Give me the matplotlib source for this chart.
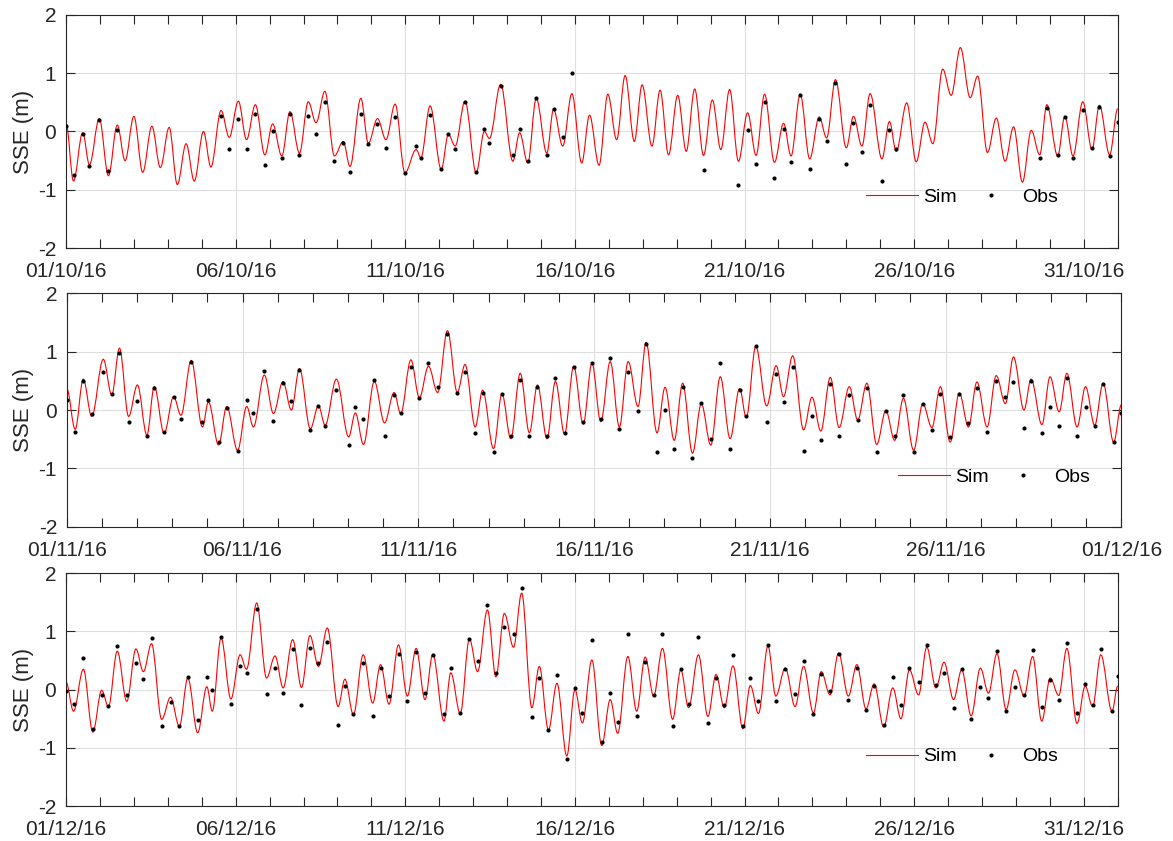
"""
SSE 潮位验证图：模拟值 (Sim) 与实测值 (Obs)，2016 年 10-12 月
"""

import numpy as np
import matplotlib
matplotlib.use('Agg')
import matplotlib.pyplot as plt
from matplotlib.path import Path
from matplotlib.patches import PathPatch
from matplotlib.lines import Line2D
from matplotlib.ticker import MultipleLocator

plt.rcParams['font.family'] = ['Liberation Sans', 'DejaVu Sans']

# ============================================================
# data: turning points of the tide (days since month start, m)
# ============================================================
oct_t = [0.00, 0.22, 0.49, 0.69, 0.98, 1.25, 1.51, 1.74, 2.00, 2.26,
         2.53, 2.78, 3.04, 3.28, 3.54, 3.78, 4.05, 4.27, 4.57, 4.81,
         5.08, 5.32, 5.58, 5.86, 6.09, 6.36, 6.60, 6.88, 7.14, 7.37,
         7.63, 7.91, 8.17, 8.37, 8.69, 8.91, 9.18, 9.43, 9.70, 9.99,
         10.32, 10.46, 10.73, 11.06, 11.27, 11.47, 11.76, 12.09, 12.33, 12.48,
         12.81, 13.17, 13.37, 13.61, 13.86, 14.17, 14.37, 14.64, 14.91, 15.20,
         15.43, 15.71, 15.97, 16.23, 16.48, 16.75, 16.98, 17.27, 17.51, 17.76,
         18.03, 18.28, 18.53, 18.79, 19.05, 19.30, 19.56, 19.82, 20.09, 20.34,
         20.59, 20.88, 21.15, 21.37, 21.64, 21.92, 22.20, 22.42, 22.68, 23.00,
         23.21, 23.46, 23.70, 24.05, 24.27, 24.47, 24.78, 25.06, 25.32, 25.55,
         25.84, 26.09, 26.36, 26.65, 26.87, 27.16, 27.42, 27.68, 27.93, 28.19,
         28.45, 28.70, 28.91, 29.23, 29.44, 29.68, 29.97, 30.24, 30.46, 30.76,
         31.00]
oct_sim = [0.14, -0.85, -0.02, -0.57, 0.22, -0.76, 0.11, -0.50, 0.26, -0.70,
           0.09, -0.62, 0.07, -0.91, -0.21, -0.85, 0.00, -0.61, 0.36, -0.10,
           0.52, -0.14, 0.46, -0.40, 0.13, -0.42, 0.34, -0.37, 0.51, 0.15,
           0.69, -0.42, -0.17, -0.60, 0.57, -0.20, 0.22, -0.14, 0.47, -0.71,
           -0.31, -0.45, 0.44, -0.65, -0.05, -0.25, 0.52, -0.71, 0.00, -0.12,
           0.81, -0.51, -0.02, -0.54, 0.57, -0.37, 0.38, -0.25, 0.65, -0.54,
           0.28, -0.58, 0.64, -0.14, 0.96, -0.17, 0.80, -0.25, 0.71, -0.40,
           0.62, -0.34, 0.73, -0.41, 0.54, -0.31, 0.72, -0.51, 0.32, -0.41,
           0.64, -0.53, 0.14, -0.42, 0.64, -0.47, 0.25, -0.11, 0.89, -0.28,
           0.26, -0.25, 0.65, -0.47, 0.17, -0.34, 0.49, -0.52, 0.16, -0.21,
           1.07, 0.62, 1.44, 0.58, 0.95, -0.36, 0.23, -0.51, 0.08, -0.87,
           0.02, -0.40, 0.46, -0.42, 0.26, -0.42, 0.51, -0.31, 0.45, -0.40,
           0.39]
nan = np.nan
oct_obs = [0.10, -0.75, -0.05, -0.60, 0.20, -0.68, 0.02, nan, nan, nan,
           nan, nan, nan, nan, nan, nan, nan, nan, 0.27, -0.30,
           0.22, -0.30, 0.30, -0.58, 0.00, -0.45, 0.30, -0.40, 0.27, -0.05,
           0.50, -0.50, -0.20, -0.70, 0.30, -0.22, 0.12, -0.28, 0.25, -0.72,
           -0.25, -0.45, 0.28, -0.65, -0.05, -0.30, 0.50, -0.70, 0.05, -0.20,
           0.78, -0.40, 0.05, -0.50, 0.57, -0.40, 0.38, -0.10, 1.01, nan,
           nan, nan, nan, nan, nan, nan, nan, nan, nan, nan,
           nan, nan, nan, -0.66, nan, nan, nan, -0.92, 0.03, -0.55,
           0.50, -0.80, 0.05, -0.52, 0.62, -0.65, 0.22, -0.17, 0.83, -0.55,
           0.15, -0.35, 0.45, -0.85, 0.02, -0.30, nan, nan, nan, nan,
           nan, nan, nan, nan, nan, nan, nan, nan, nan, nan,
           nan, -0.45, 0.40, -0.40, 0.25, -0.45, 0.37, -0.28, 0.42, -0.42,
           0.17]

nov_t = [0.00, 0.24, 0.47, 0.71, 1.04, 1.28, 1.50, 1.76, 2.01, 2.28,
         2.49, 2.77, 3.04, 3.25, 3.54, 3.86, 4.03, 4.32, 4.55, 4.86,
         5.12, 5.31, 5.62, 5.88, 6.15, 6.39, 6.62, 6.93, 7.16, 7.35,
         7.67, 8.02, 8.21, 8.44, 8.75, 9.04, 9.31, 9.50, 9.79, 10.03,
         10.29, 10.55, 10.83, 11.11, 11.33, 11.62, 11.83, 12.14, 12.38, 12.63,
         12.90, 13.16, 13.39, 13.66, 13.90, 14.16, 14.42, 14.69, 14.94, 15.19,
         15.46, 15.72, 15.97, 16.25, 16.48, 16.79, 17.02, 17.28, 17.52, 17.80,
         18.05, 18.32, 18.59, 18.87, 19.14, 19.33, 19.60, 19.91, 20.18, 20.39,
         20.65, 20.96, 21.20, 21.45, 21.72, 21.97, 22.26, 22.50, 22.76, 23.04,
         23.30, 23.55, 23.80, 24.09, 24.35, 24.61, 24.85, 25.13, 25.39, 25.65,
         25.89, 26.18, 26.44, 26.70, 26.93, 27.23, 27.43, 27.74, 27.97, 28.23,
         28.45, 28.74, 28.98, 29.24, 29.48, 29.78, 30.00]
nov_sim = [0.37, -0.33, 0.53, -0.11, 0.87, 0.26, 1.06, -0.11, 0.43, -0.43,
           0.40, -0.40, 0.23, -0.09, 0.85, -0.29, 0.14, -0.60, 0.06, -0.69,
           0.06, -0.29, 0.60, -0.06, 0.49, 0.00, 0.71, -0.32, 0.07, -0.26,
           0.53, -0.46, -0.05, -0.59, 0.49, -0.22, 0.30, -0.06, 0.86, 0.21,
           0.75, 0.30, 1.36, 0.30, 0.78, -0.29, 0.34, -0.66, 0.28, -0.49,
           0.63, -0.39, 0.43, -0.49, 0.49, -0.41, 0.75, -0.24, 0.80, -0.20,
           0.83, -0.29, 0.83, 0.06, 1.16, -0.39, 0.39, -0.52, 0.46, -0.74,
           0.11, -0.60, 0.57, -0.49, 0.37, -0.13, 1.09, 0.07, 0.76, 0.23,
           0.93, -0.34, 0.22, -0.36, 0.56, -0.30, 0.40, -0.17, 0.46, -0.59,
           -0.01, -0.52, 0.20, -0.69, 0.11, -0.30, 0.40, -0.55, 0.29, -0.29,
           0.48, -0.29, 0.59, 0.11, 0.91, 0.00, 0.53, -0.25, 0.57, -0.03,
           0.63, -0.29, 0.40, -0.26, 0.46, -0.55, 0.09]
nov_obs = [0.17, -0.37, 0.50, -0.07, 0.65, 0.27, 0.97, -0.20, 0.15, -0.45,
           0.37, -0.38, 0.23, -0.15, 0.82, -0.20, 0.17, -0.55, 0.03, -0.70,
           0.18, -0.05, 0.67, -0.18, 0.47, 0.15, 0.68, -0.35, 0.07, -0.27,
           0.35, -0.60, 0.05, -0.15, 0.52, -0.45, 0.25, -0.05, 0.73, 0.20,
           0.80, 0.40, 1.30, 0.30, 0.65, -0.40, 0.30, -0.72, 0.27, -0.45,
           0.52, -0.45, 0.40, -0.45, 0.55, -0.40, 0.73, -0.20, 0.80, -0.15,
           0.90, -0.32, 0.65, -0.02, 1.13, -0.72, 0.00, -0.67, 0.40, -0.83,
           0.12, -0.50, 0.80, -0.67, 0.35, -0.10, 1.10, -0.20, 0.62, 0.13,
           0.73, -0.70, -0.10, -0.52, 0.45, -0.45, 0.25, -0.17, 0.37, -0.72,
           -0.02, -0.45, 0.25, -0.72, 0.10, -0.35, 0.28, -0.47, 0.28, -0.22,
           0.38, -0.37, 0.50, 0.23, 0.48, -0.30, 0.50, -0.40, 0.05, -0.28,
           0.55, -0.45, 0.05, -0.27, 0.45, -0.55, -0.05]

dec_t = [0.00, 0.22, 0.51, 0.79, 1.05, 1.25, 1.51, 1.79, 2.06, 2.28,
         2.52, 2.82, 3.08, 3.34, 3.59, 3.88, 4.15, 4.31, 4.57, 4.86,
         5.13, 5.32, 5.62, 5.91, 6.16, 6.40, 6.68, 6.94, 7.19, 7.44,
         7.70, 8.02, 8.22, 8.47, 8.76, 9.04, 9.27, 9.52, 9.80, 10.06,
         10.32, 10.58, 10.81, 11.14, 11.34, 11.62, 11.89, 12.13, 12.42, 12.67,
         12.92, 13.19, 13.43, 13.73, 13.95, 14.22, 14.47, 14.76, 15.00, 15.22,
         15.50, 15.79, 16.04, 16.26, 16.56, 16.82, 17.07, 17.32, 17.58, 17.88,
         18.12, 18.35, 18.64, 18.92, 19.16, 19.40, 19.66, 19.95, 20.17, 20.41,
         20.69, 20.92, 21.20, 21.49, 21.74, 22.03, 22.26, 22.52, 22.77, 23.06,
         23.31, 23.58, 23.82, 24.10, 24.37, 24.61, 24.86, 25.13, 25.37, 25.64,
         25.88, 26.16, 26.40, 26.68, 26.95, 27.19, 27.44, 27.71, 27.97, 28.24,
         28.49, 28.76, 29.01, 29.26, 29.50, 29.80, 30.04, 30.26, 30.50, 30.83,
         31.00]
dec_sim = [0.13, -0.37, 0.35, -0.73, -0.01, -0.29, 0.66, -0.20, 0.70, 0.31,
           0.79, -0.51, -0.13, -0.63, 0.20, -0.74, 0.05, -0.37, 0.89, -0.16,
           0.60, 0.35, 1.49, 0.20, 0.58, 0.03, 0.86, 0.04, 0.93, 0.40,
           1.06, -0.29, 0.18, -0.43, 0.60, -0.23, 0.43, -0.25, 0.77, -0.11,
           0.71, -0.17, 0.61, -0.54, 0.29, -0.41, 0.87, 0.31, 1.37, 0.22,
           1.31, 0.73, 1.66, -0.31, 0.40, -0.69, 0.11, -1.14, 0.00, -0.57,
           0.51, -0.96, -0.17, -0.75, 0.57, -0.37, 0.56, -0.11, 0.71, -0.51,
           0.34, -0.31, 0.60, -0.46, 0.26, -0.31, 0.41, -0.67, 0.07, -0.41,
           0.75, -0.11, 0.37, -0.29, 0.40, -0.40, 0.31, -0.09, 0.63, -0.11,
           0.43, -0.33, 0.10, -0.64, 0.03, -0.50, 0.34, -0.09, 0.73, 0.03,
           0.47, -0.17, 0.34, -0.45, 0.37, -0.06, 0.62, -0.34, 0.34, -0.11,
           0.57, -0.54, 0.20, -0.10, 0.71, -0.58, 0.06, -0.29, 0.60, -0.37,
           0.06]
dec_obs = [-0.02, -0.25, 0.55, -0.68, -0.10, -0.28, 0.75, -0.10, 0.45, 0.18,
           0.88, -0.62, -0.22, -0.62, 0.22, -0.52, 0.22, 0.00, 0.90, -0.25,
           0.40, 0.28, 1.38, -0.08, 0.37, -0.05, 0.70, -0.27, 0.72, 0.45,
           0.82, -0.60, 0.07, -0.42, 0.45, -0.45, 0.37, -0.11, 0.61, -0.20,
           0.65, -0.05, 0.60, -0.42, 0.37, -0.40, 0.87, 0.50, 1.45, 0.28,
           1.08, 0.95, 1.75, -0.47, 0.20, -0.70, 0.25, -1.20, 0.02, -0.40,
           0.85, -0.90, -0.05, -0.55, 0.95, -0.45, 0.47, -0.10, 0.95, -0.62,
           0.35, -0.25, 0.90, -0.57, 0.20, -0.27, 0.60, -0.62, 0.20, -0.20,
           0.77, -0.20, 0.35, -0.08, 0.50, -0.42, 0.27, -0.03, 0.62, -0.17,
           0.37, -0.35, 0.07, -0.60, 0.22, -0.27, 0.37, 0.13, 0.77, 0.08,
           0.28, -0.32, 0.35, -0.50, 0.05, -0.15, 0.67, -0.37, 0.05, -0.10,
           0.68, -0.30, 0.17, -0.17, 0.80, -0.40, 0.10, -0.27, 0.70, -0.37,
           0.23]

oct_labels = ['01/10/16', '06/10/16', '11/10/16', '16/10/16', '21/10/16', '26/10/16', '31/10/16']
nov_labels = ['01/11/16', '06/11/16', '11/11/16', '16/11/16', '21/11/16', '26/11/16', '01/12/16']
dec_labels = ['01/12/16', '06/12/16', '11/12/16', '16/12/16', '21/12/16', '26/12/16', '31/12/16']
month_days = [31, 30, 31]
y_ticks = [-2, -1, 0, 1, 2]

# ============================================================
# style (MATLAB-like)
# ============================================================
AX_COLOR = '#262626'
GRID_COLOR = '#dedede'
SIM_COLOR = '#ff0000'
DOT_SIZE = 3.0


def tide_path(t, v, k=0.36):
    """smooth curve through the turning points (flat tangent at each one)"""
    verts = [(t[0], v[0])]
    codes = [Path.MOVETO]
    for i in range(len(t) - 1):
        dt = t[i + 1] - t[i]
        verts += [(t[i] + k * dt, v[i]), (t[i + 1] - k * dt, v[i + 1]), (t[i + 1], v[i + 1])]
        codes += [Path.CURVE4] * 3
    return Path(verts, codes)


def style_axes(ax, ndays, labels):
    ax.set_xlim(0, ndays)
    ax.set_ylim(-2, 2)
    ax.set_xticks(np.arange(0, 31, 5))
    ax.set_xticklabels(labels)
    ax.xaxis.set_minor_locator(MultipleLocator(1))
    ax.set_yticks(y_ticks)
    ax.set_yticklabels([str(v) for v in y_ticks])
    ax.grid(True, which='major', color=GRID_COLOR, lw=0.8)
    ax.set_axisbelow(True)
    ax.tick_params(which='both', direction='in', top=True, right=True,
                   length=6.5, width=0.8, color=AX_COLOR, labelcolor=AX_COLOR,
                   labelsize=15)
    ax.tick_params(axis='x', which='major', pad=10)
    ax.tick_params(axis='y', which='major', pad=7)
    for s in ax.spines.values():
        s.set_color(AX_COLOR)
        s.set_linewidth(0.8)
    ax.set_ylabel('SSE (m)', fontsize=16, color=AX_COLOR, labelpad=3)


# ============================================================
# figure
# ============================================================
fig = plt.figure(figsize=(11.73, 8.41), dpi=100)
rects = [[0.0563, 0.7051, 0.8966, 0.2771],
         [0.0569, 0.3737, 0.8991, 0.2775],
         [0.0563, 0.0416, 0.8966, 0.2767]]
legend_anchor = [(0.7607, 0.219), (0.7880, 0.214), (0.7607, 0.212)]

panels = [(oct_t, oct_sim, oct_obs, oct_labels),
          (nov_t, nov_sim, nov_obs, nov_labels),
          (dec_t, dec_sim, dec_obs, dec_labels)]

sim_handle = Line2D([], [], color=SIM_COLOR, lw=0.8)
obs_handle = Line2D([], [], ls='none', marker='o', ms=DOT_SIZE, mfc='k', mec='k', mew=0)

for i, (t, sim, obs, labels) in enumerate(panels):
    ax = fig.add_axes(rects[i])
    style_axes(ax, month_days[i], labels)
    ax.add_patch(PathPatch(tide_path(t, sim), fc='none', ec=SIM_COLOR, lw=0.8, zorder=2))
    ax.plot(t, obs, ls='none', marker='o', ms=DOT_SIZE, mfc='k', mec='k', mew=0, zorder=3)
    ax.legend([sim_handle, obs_handle], ['Sim', 'Obs'], ncol=2, frameon=False,
              loc='center left', bbox_to_anchor=legend_anchor[i],
              borderpad=0, borderaxespad=0, handlelength=2.68,
              handletextpad=0.26, columnspacing=0.41, fontsize=14,
              labelcolor='k')

fig.savefig('out.png', dpi=100)
